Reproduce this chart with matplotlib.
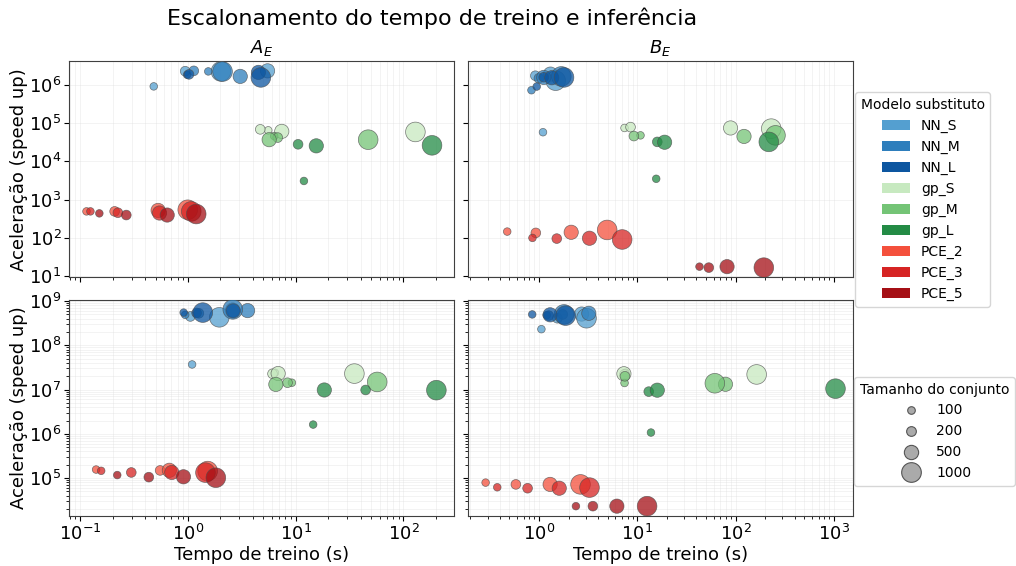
import numpy as np
import matplotlib
matplotlib.use("Agg")
import matplotlib.pyplot as plt
from matplotlib.patches import Patch
from matplotlib.lines import Line2D
from matplotlib.ticker import LogLocator

# Surrogate models and dataset sizes
models = ["NN_S", "NN_M", "NN_L", "gp_S", "gp_M", "gp_L", "PCE_2", "PCE_3", "PCE_5"]
model_colors = ["#549fd0", "#2e7ebc", "#0d56a0",
                "#c7e9c0", "#74c476", "#238b45",
                "#f4503c", "#d62423", "#a50f15"]
set_sizes = [100, 200, 500, 1000]

# Case A, first metric: training time (s) and speed-up, one row per model, columns = set sizes
time_a_top = [
    [0.48, 0.94, 5.47, 2.02],
    [1.54, 1.13, 3.05, 2.09],
    [0.98, 1.02, 4.5, 4.74],
    [5.55, 4.68, 7.41, 129],
    [6.3, 6.8, 5.66, 47],
    [11.9, 10.5, 15.5, 184],
    [0.114, 0.208, 0.527, 0.993],
    [0.124, 0.223, 0.543, 1.07],
    [0.150, 0.267, 0.640, 1.19],
]
speed_a_top = [
    [9.2e5, 2.3e6, 2.35e6, 2.27e6],
    [2.27e6, 2.35e6, 1.68e6, 2.25e6],
    [1.86e6, 1.9e6, 2.14e6, 1.58e6],
    [6.5e4, 6.9e4, 6.1e4, 5.9e4],
    [4.6e4, 4.2e4, 3.7e4, 3.7e4],
    [3.07e3, 2.8e4, 2.55e4, 2.63e4],
    [490, 490, 520, 541],
    [490, 452, 444, 490],
    [435, 393, 393, 418],
]

# Case B, first metric
time_b_top = [
    [1.1, 0.92, 1.31, 1.48],
    [0.84, 1.0, 1.12, 1.69],
    [0.95, 1.12, 1.35, 1.8],
    [7.43, 8.55, 89, 231],
    [10.8, 9.25, 122, 255],
    [15.6, 16, 19, 218],
    [0.476, 0.93, 2.13, 4.95],
    [0.86, 1.52, 3.27, 7.03],
    [43, 53.5, 82, 194],
]
speed_b_top = [
    [5.8e4, 1.75e6, 1.93e6, 1.3e6],
    [7.3e5, 1.5e6, 1.58e6, 1.68e6],
    [9.1e5, 1.6e6, 1.55e6, 1.58e6],
    [7.5e4, 7.9e4, 7.5e4, 7.2e4],
    [4.8e4, 4.6e4, 4.5e4, 4.8e4],
    [3.5e3, 3.24e4, 3.17e4, 3.24e4],
    [145, 134, 139, 160],
    [99, 95, 97, 90],
    [17.5, 16.5, 17.5, 16.5],
]

# Case A, second metric
time_a_bot = [
    [1.09, 1.05, 2.59, 1.95],
    [0.94, 1.26, 3.57, 2.6],
    [0.91, 1.2, 2.62, 1.37],
    [6.4, 6.08, 6.86, 35],
    [9.2, 8.38, 6.53, 57],
    [14.5, 44.5, 18.4, 202],
    [0.14, 0.55, 0.67, 1.52],
    [0.156, 0.297, 0.706, 1.45],
    [0.22, 0.432, 0.906, 1.81],
]
speed_a_bot = [
    [3.7e7, 4.5e8, 6.3e8, 4.3e8],
    [4.9e8, 5.3e8, 6.1e8, 6.5e8],
    [5.5e8, 5.4e8, 6.0e8, 5.5e8],
    [2.4e7, 2.28e7, 2.31e7, 2.3e7],
    [1.43e7, 1.43e7, 1.31e7, 1.49e7],
    [1.62e6, 9.8e6, 9.8e6, 9.7e6],
    [1.56e5, 1.49e5, 1.5e5, 1.44e5],
    [1.46e5, 1.34e5, 1.34e5, 1.33e5],
    [1.17e5, 1.05e5, 1.07e5, 1.02e5],
]

# Case B, second metric
time_b_bot = [
    [1.06, 1.54, 2.72, 3.05],
    [1.2, 1.75, 3.22, 1.8],
    [0.855, 1.26, 1.3, 1.87],
    [7.6, 7.4, 7.32, 164],
    [7.43, 7.5, 79, 61.6],
    [13.8, 13.1, 16, 1040],
    [0.287, 0.583, 1.30, 2.65],
    [0.377, 0.767, 1.61, 3.27],
    [2.38, 3.54, 6.21, 12.6],
]
speed_b_bot = [
    [2.32e8, 4.1e8, 5.1e8, 4.1e8],
    [4.8e8, 5.0e8, 5.3e8, 5.0e8],
    [5.0e8, 4.7e8, 4.9e8, 4.7e8],
    [2.4e7, 2.2e7, 2.28e7, 2.2e7],
    [1.41e7, 2.0e7, 1.32e7, 1.39e7],
    [1.07e6, 9.0e6, 9.7e6, 1.05e7],
    [7.9e4, 7.2e4, 7.2e4, 7.2e4],
    [6.2e4, 5.9e4, 5.9e4, 6.1e4],
    [2.32e4, 2.32e4, 2.32e4, 2.32e4],
]

panel_titles = [r"$A_E$", r"$B_E$"]


def marker_area(n):
    """Map dataset size to scatter marker area (pt^2)."""
    n = np.asarray(n, dtype=float)
    return 30 + 170 * (n - 100) / 900


fig = plt.figure(figsize=(10.16, 5.66), dpi=100)
axes = fig.subplots(
    2, 2, sharex="col", sharey="row",
    gridspec_kw=dict(left=69 / 1016, right=853 / 1016,
                     top=1 - 61 / 566, bottom=1 - 516 / 566,
                     wspace=0.037, hspace=0.102),
)

panels = [
    (axes[0, 0], time_a_top, speed_a_top),
    (axes[0, 1], time_b_top, speed_b_top),
    (axes[1, 0], time_a_bot, speed_a_bot),
    (axes[1, 1], time_b_bot, speed_b_bot),
]

for ax, times, speeds in panels:
    for m, color in enumerate(model_colors):
        ax.scatter(times[m], speeds[m], s=marker_area(set_sizes),
                   color=color, alpha=0.75, edgecolors="0.3",
                   linewidths=0.5, zorder=3)
    ax.set_xscale("log")
    ax.set_yscale("log")
    ax.yaxis.set_major_locator(LogLocator(base=10, numticks=20))
    ax.grid(True, which="both", color="0.85", linewidth=0.4, alpha=0.55)
    ax.set_axisbelow(True)
    ax.tick_params(axis="both", which="major", labelsize=13)
    ax.tick_params(axis="y", which="both", pad=2)
    ax.tick_params(axis="x", which="both", pad=2.5)
    for sp in ax.spines.values():
        sp.set_color("0.25")

for j, t in enumerate(panel_titles):
    axes[0, j].set_title(t, fontsize=13)
for i in range(2):
    axes[i, 0].set_ylabel("Aceleração (speed up)", fontsize=13, labelpad=1)
for j in range(2):
    axes[1, j].set_xlabel("Tempo de treino (s)", fontsize=13, labelpad=1)

fig.suptitle("Escalonamento do tempo de treino e inferência",
             x=432 / 1016, y=0.968, fontsize=16, va="center")

model_handles = [Patch(facecolor=c, label=m) for m, c in zip(models, model_colors)]
fig.legend(handles=model_handles, title="Modelo substituto",
           loc="upper left", bbox_to_anchor=(855 / 1016, 1 - 92 / 566),
           borderaxespad=0, fontsize=10, title_fontsize=10)

size_handles = [Line2D([], [], ls="", marker="o",
                       markersize=float(np.sqrt(marker_area(n))),
                       markerfacecolor="#aaaaaa", markeredgecolor="#555555",
                       markeredgewidth=0.8, label=str(n))
                for n in set_sizes]
fig.legend(handles=size_handles, title="Tamanho do conjunto",
           loc="upper left", bbox_to_anchor=(854 / 1016, 1 - 377 / 566),
           borderaxespad=0, fontsize=10, title_fontsize=10)

fig.savefig("out.png", dpi=100)
